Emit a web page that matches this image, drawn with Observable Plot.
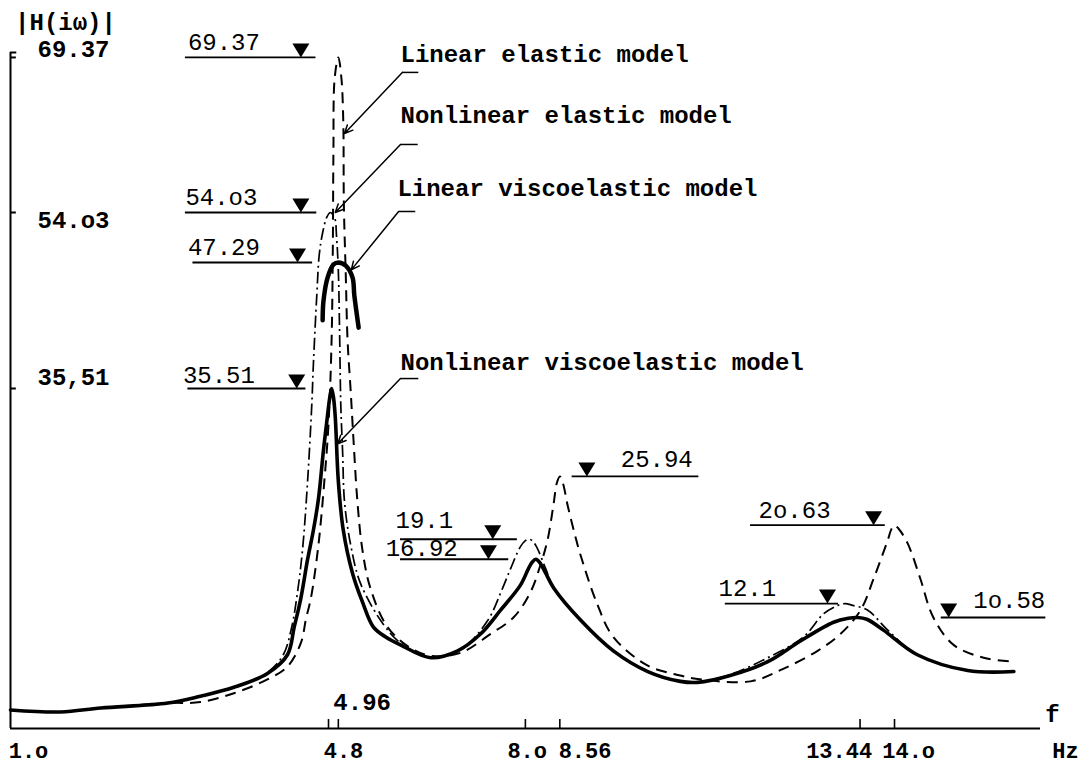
<!DOCTYPE html>
<html>
<head>
<meta charset="utf-8">
<script src="https://cdn.jsdelivr.net/npm/d3@7"></script>
<script src="https://cdn.jsdelivr.net/npm/@observablehq/plot@0.6"></script>
<style>
html,body{margin:0;padding:0;background:#fff;}
#chart svg{display:block;}
</style>
</head>
<body>
<div id="chart"></div>
<script>
// ---------------- data (frequency f in Hz, amplitude |H(iω)|) ----------------
const linearElasticF = [1.0,1.6,2.08,2.88,3.27,3.67,4.07,4.31,4.47,4.53,4.59,4.68,4.75,4.8,4.85,4.87,4.88,4.9,4.96,5.01,5.04,5.05,5.08,5.11,5.16,5.21,5.27,5.35,5.48,5.76,6.13,6.46,6.95,7.43,7.81,8.08,8.25,8.36,8.46,8.51,8.56,8.61,8.69,8.82,8.9,9.17,9.43,9.99,10.52,10.8,11.66,12.2,12.75,13.12,13.45,13.66,13.89,13.95,14.0,14.06,14.21,14.42,14.63,14.96,15.45,15.94];
const linearElasticV = [1.2,1.0,1.4,1.9,2.0,2.9,4.3,5.6,8.0,10.4,12.7,18.5,25.4,31.6,40.0,48.9,59.9,67.3,69.37,67.3,63.1,54.7,46.3,40.0,35.3,29.5,23.2,18.0,13.8,9.6,7.5,6.7,7.0,8.9,10.6,13.3,16.4,19.0,23.0,25.2,25.94,25.2,22.7,19.2,17.3,12.0,8.6,5.7,4.7,4.35,4.1,5.4,7.2,8.9,11.4,14.8,19.0,20.2,20.63,20.3,18.7,14.8,10.6,7.8,6.5,6.1];

const nonlinearElasticF = [1.0,1.6,2.08,2.88,3.27,3.67,4.07,4.26,4.36,4.42,4.49,4.55,4.6,4.62,4.66,4.69,4.73,4.78,4.83,4.9,4.93,4.96,4.98,5.0,5.03,5.06,5.16,5.32,5.69,5.97,6.46,6.95,7.39,7.6,7.76,7.92,8.0,8.05,8.11,8.18,8.33,8.46,8.9,9.43,9.99,10.52,10.8,11.33,11.94,12.52,12.85,13.08,13.2,13.32,13.56,13.89,14.37,15.19,15.94];
const nonlinearElasticV = [1.2,1.0,1.4,1.9,2.6,3.5,5.0,6.8,9.6,12.7,18.0,25.4,33.7,37.9,44.2,48.4,51.3,53.4,54.03,53.3,50.9,46.5,40.9,33.7,28.5,23.2,18.5,14.3,9.9,8.0,6.5,7.3,10.3,13.3,15.9,18.3,18.95,19.1,18.95,18.3,15.9,13.8,10.3,7.2,5.1,4.1,4.0,4.8,6.5,8.6,11.0,11.9,12.1,11.9,11.4,9.3,6.8,5.2,5.1];

const linearViscoF = [4.73,4.74,4.79,4.88,4.96,5.08,5.19,5.22,5.29];
const linearViscoV = [41.9,43.7,45.9,47.1,47.29,47.0,45.9,44.2,41.2];

const nonlinearViscoF = [1.0,1.6,2.08,2.88,3.27,3.67,4.07,4.31,4.39,4.47,4.55,4.62,4.68,4.74,4.79,4.82,4.85,4.88,4.91,4.96,5.04,5.19,5.35,5.53,5.73,5.97,6.46,6.9,7.27,7.6,7.92,8.05,8.11,8.17,8.24,8.33,8.46,8.9,9.43,9.99,10.52,10.8,11.33,11.94,12.47,13.01,13.25,13.4,13.55,13.82,14.37,15.19,15.94];
const nonlinearViscoV = [1.2,1.0,1.4,1.9,2.6,3.5,4.9,6.8,9.6,12.7,16.9,20.1,23.5,28.8,32.7,34.5,35.51,34.6,32.4,25.4,20.1,15.4,12.3,9.6,8.6,7.8,6.5,7.2,8.9,11.4,14.1,15.9,16.6,16.92,16.5,15.4,13.8,10.3,7.2,5.1,4.1,4.0,4.7,6.1,8.2,10.1,10.5,10.58,10.4,9.3,6.8,5.2,5.1];

const seriesNames = ["Linear elastic model","Nonlinear elastic model","Linear viscoelastic model","Nonlinear viscoelastic model"];

const peakLabels = ["69.37","54.o3","47.29","35.51","25.94","19.1","16.92","2o.63","12.1","1o.58"];
const peakValues = [69.37,54.03,47.29,35.51,25.94,19.1,16.92,20.63,12.1,10.58];

const freqTicks = [4.8,4.96,8.0,8.56,13.44,14.0];
const freqTickLabels = ["1.o","4.8","8.o","8.56","13.44","14.o"];
const magnitudeTicks = [69.37,54.03,35.51];
const magnitudeTickLabels = ["69.37","54.o3","35,51"];

// ---------------- layout (annotation placement, in chart units) ----------------
const xKnots = [1.0, 4.8, 16.373];
const xPixels = [10, 328, 1040];
const yKnots = [-0.68, 10.58, 35.51, 47.29, 54.03, 69.86];
const yPixels = [728, 617, 388, 262, 212, 52];
const xStart = 1.0, xEnd = 16.373, yBase = -0.68, yTop = 69.86;

const peakLineFrom = [3.09,3.09,3.18,3.12,8.76,5.97,5.97,11.66,11.25,14.76];
const peakLineTo   = [4.65,4.66,4.61,4.53,10.82,7.87,7.73,13.85,13.09,16.46];
const peakMarkAt   = [4.47,4.47,4.43,4.42,9.0,7.47,7.40,13.66,12.91,14.88];
const peakTextAt   = [3.12,3.09,3.12,3.06,9.55,5.89,5.73,11.79,11.14,15.28];
const peakTextDy   = [-15,-15,-15,-13,-17,-19,-11,-15,-15,-17];

const freqLabelAt = [1.215,5.044,8.03,8.97,13.10,14.23];
const magLabelDy = [-8, 8, -11];

const legendF = [5.97,5.97,5.92,5.97];
const legendV = [69.67,63.63,56.4,37.94];
const leaderStartF = [6.26,6.25,6.21,6.26];
const leaderKneeF = [6.0,5.97,5.94,5.97];
const leaderKneeV = [67.89,60.76,54.13,36.44];
const leaderEndF = [5.06,4.91,5.17,4.95];
const leaderEndV = [61.85,54.03,46.6,29.5];

// ---------------- build ----------------
const rows = (fs, vs) => fs.map((f, i) => ({f, v: vs[i]}));
const FONT = "'Liberation Mono', 'DejaVu Sans Mono', monospace";

const annotations = peakLabels.map((label, i) => ({
  label, v: peakValues[i], x1: peakLineFrom[i], x2: peakLineTo[i], m: peakMarkAt[i], t: peakTextAt[i]
}));
const legendRows = seriesNames.map((label, i) => ({
  label, f: legendF[i], v: legendV[i], hx: leaderStartF[i], kx: leaderKneeF[i], ky: leaderKneeV[i], ex: leaderEndF[i], ey: leaderEndV[i]
}));
const freqLabelRows = freqTickLabels.map((label, i) => ({label, at: freqLabelAt[i]}));

// inverted triangle, apex at the anchor point
const downTriangle = {
  draw(ctx, size) {
    const k = Math.sqrt(size / 113);
    const w = 8.5 * k, h = 14 * k;
    ctx.moveTo(-w, -h); ctx.lineTo(w, -h); ctx.lineTo(0, 0); ctx.closePath();
  }
};

const magLabelMarks = magnitudeTicks.map((v, i) =>
  Plot.text([magnitudeTickLabels[i]], {x: xStart, y: v, text: d => d, dx: 27, dy: magLabelDy[i],
    textAnchor: "start", fontSize: 24, fontWeight: "bold", fill: "black"}));

const peakTextMarks = annotations.map((a, i) =>
  Plot.text([a], {x: "t", y: "v", text: "label", textAnchor: "start", dy: peakTextDy[i], fontSize: 24, fill: "black"}));

const chart = Plot.plot({
  width: 1087,
  height: 764,
  marginTop: 52, marginRight: 47, marginBottom: 36, marginLeft: 10,
  style: {background: "white", color: "black", fontFamily: FONT},
  x: {type: "linear", domain: xKnots, range: xPixels, axis: null},
  y: {type: "linear", domain: yKnots, range: yPixels, axis: null},
  marks: [
    // axes
    Plot.ruleY([yBase], {x1: xStart, x2: xEnd, stroke: "black", strokeWidth: 2}),
    Plot.ruleX([xStart], {y1: yBase, y2: yTop, stroke: "black", strokeWidth: 2}),
    Plot.ruleY([yTop], {x1: xStart, x2: 1.075, stroke: "black", strokeWidth: 2}),
    Plot.ruleY(magnitudeTicks, {x1: xStart, x2: 1.07, stroke: "black", strokeWidth: 2}),
    Plot.ruleX(freqTicks, {y1: yBase, y2: 0.23, stroke: "black", strokeWidth: 1.6}),
    ...magLabelMarks,
    Plot.text(freqLabelRows, {x: "at", y: yBase, text: "label", dy: 22, fontSize: 22, fontWeight: "bold", fill: "black"}),
    Plot.text(["4.96"], {x: 4.96, y: yBase, text: d => d, dx: -5, dy: -26, textAnchor: "start", fontSize: 24, fontWeight: "bold", fill: "black"}),
    Plot.text(["f"], {x: xEnd, y: yBase, text: d => d, dx: 12, dy: -14, fontSize: 24, fontWeight: "bold", fill: "black"}),
    Plot.text(["Hz"], {x: xEnd, y: yBase, text: d => d, dx: 25, dy: 22, fontSize: 22, fontWeight: "bold", fill: "black"}),
    Plot.text(["|H(iω)|"], {x: xStart, y: yTop, text: d => d, dx: 55, dy: -30, fontSize: 24, fontWeight: "bold", fill: "black"}),

    // curves
    Plot.line(rows(linearElasticF, linearElasticV), {x: "f", y: "v", stroke: "black", strokeWidth: 2,
      strokeDasharray: "11,7", strokeLinecap: "butt", curve: "catmull-rom"}),
    Plot.line(rows(nonlinearElasticF, nonlinearElasticV), {x: "f", y: "v", stroke: "black", strokeWidth: 1.7,
      strokeDasharray: "12,4,2,4", strokeLinecap: "butt", curve: "catmull-rom"}),
    Plot.line(rows(nonlinearViscoF, nonlinearViscoV), {x: "f", y: "v", stroke: "black", strokeWidth: 3.6,
      curve: "catmull-rom"}),
    Plot.line(rows(linearViscoF, linearViscoV), {x: "f", y: "v", stroke: "black", strokeWidth: 4.5,
      curve: "catmull-rom"}),

    // peak annotations
    Plot.ruleY(annotations, {y: "v", x1: "x1", x2: "x2", stroke: "black", strokeWidth: 1.8}),
    Plot.dot(annotations, {x: "m", y: "v", symbol: downTriangle, r: 6, fill: "black", stroke: "none"}),
    ...peakTextMarks,

    // legend labels with leader lines
    Plot.text(legendRows, {x: "f", y: "v", text: "label", textAnchor: "start", fontSize: 24, fontWeight: "bold", fill: "black"}),
    Plot.link(legendRows, {x1: "hx", y1: "ky", x2: "kx", y2: "ky", stroke: "black", strokeWidth: 1.5}),
    Plot.arrow(legendRows, {x1: "kx", y1: "ky", x2: "ex", y2: "ey", stroke: "black", strokeWidth: 1.5, headLength: 9, headAngle: 50})
  ]
});
document.getElementById("chart").appendChild(chart);
</script>
</body>
</html>
